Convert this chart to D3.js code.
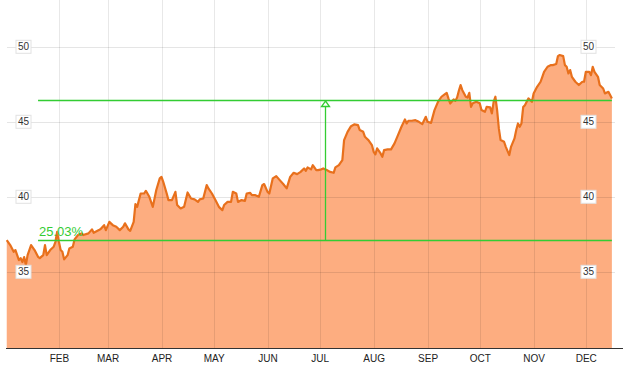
<!DOCTYPE html>
<html>
<head>
<meta charset="utf-8">
<script src="https://cdn.jsdelivr.net/npm/d3@7"></script>
<style>
  body { margin: 0; background: #fff; }
  svg { display: block; font-family: "Liberation Sans", Arial, sans-serif; }
</style>
</head>
<body>
<svg id="chart" width="630" height="368"></svg>
<script>
"use strict";

// price series
var dates = [
  "2013-01-02","2013-01-04","2013-01-06","2013-01-07","2013-01-09","2013-01-10","2013-01-11","2013-01-12",
  "2013-01-13","2013-01-14","2013-01-16","2013-01-18","2013-01-20","2013-01-21","2013-01-23","2013-01-24",
  "2013-01-25","2013-01-27","2013-01-29","2013-01-30","2013-01-31","2013-02-01","2013-02-02","2013-02-03",
  "2013-02-04","2013-02-06","2013-02-07","2013-02-09","2013-02-10","2013-02-12","2013-02-14","2013-02-15",
  "2013-02-18","2013-02-20","2013-02-21","2013-02-24","2013-02-25","2013-02-27","2013-02-28","2013-03-02",
  "2013-03-04","2013-03-06","2013-03-08","2013-03-10","2013-03-11","2013-03-13","2013-03-14","2013-03-16",
  "2013-03-17","2013-03-18","2013-03-20","2013-03-22","2013-03-23","2013-03-25","2013-03-27","2013-03-29",
  "2013-03-31","2013-04-01","2013-04-02","2013-04-04","2013-04-05","2013-04-07","2013-04-09","2013-04-10",
  "2013-04-12","2013-04-14","2013-04-16","2013-04-18","2013-04-20","2013-04-22","2013-04-23","2013-04-25",
  "2013-04-27","2013-04-28","2013-04-30","2013-05-02","2013-05-04","2013-05-06","2013-05-07","2013-05-09",
  "2013-05-11","2013-05-12","2013-05-14","2013-05-15","2013-05-17","2013-05-19","2013-05-20","2013-05-22",
  "2013-05-23","2013-05-25","2013-05-27","2013-05-29","2013-05-30","2013-06-01","2013-06-02","2013-06-04",
  "2013-06-06","2013-06-08","2013-06-10","2013-06-12","2013-06-14","2013-06-16","2013-06-18","2013-06-20",
  "2013-06-22","2013-06-23","2013-06-24","2013-06-26","2013-06-27","2013-06-29","2013-06-30","2013-07-02",
  "2013-07-03","2013-07-05","2013-07-07","2013-07-09","2013-07-10","2013-07-12","2013-07-14","2013-07-15",
  "2013-07-17","2013-07-19","2013-07-21","2013-07-23","2013-07-24","2013-07-26","2013-07-27","2013-07-28",
  "2013-07-29","2013-07-31","2013-08-01","2013-08-02","2013-08-03","2013-08-05","2013-08-06","2013-08-07",
  "2013-08-09","2013-08-11","2013-08-13","2013-08-15","2013-08-17","2013-08-19","2013-08-20","2013-08-21",
  "2013-08-23","2013-08-25","2013-08-27","2013-08-29","2013-08-31","2013-09-01","2013-09-03","2013-09-05",
  "2013-09-07","2013-09-09","2013-09-11","2013-09-12","2013-09-13","2013-09-14","2013-09-16","2013-09-17",
  "2013-09-18","2013-09-19","2013-09-20","2013-09-21","2013-09-23","2013-09-24","2013-09-25","2013-09-26",
  "2013-09-27","2013-09-29","2013-10-01","2013-10-02","2013-10-04","2013-10-05","2013-10-07","2013-10-08",
  "2013-10-09","2013-10-10","2013-10-11","2013-10-12","2013-10-13","2013-10-15","2013-10-16","2013-10-18",
  "2013-10-19","2013-10-21","2013-10-22","2013-10-23","2013-10-24","2013-10-25","2013-10-26","2013-10-27",
  "2013-10-28","2013-10-29","2013-10-30","2013-10-31","2013-11-01","2013-11-03","2013-11-05","2013-11-06",
  "2013-11-07","2013-11-09","2013-11-11","2013-11-12","2013-11-14","2013-11-15","2013-11-16","2013-11-18",
  "2013-11-19","2013-11-20","2013-11-21","2013-11-22","2013-11-23","2013-11-25","2013-11-27","2013-11-29",
  "2013-11-30","2013-12-01","2013-12-03","2013-12-04","2013-12-05","2013-12-06","2013-12-08","2013-12-09",
  "2013-12-11","2013-12-12","2013-12-14","2013-12-15","2013-12-16"
];

var prices = [
  37.11,36.78,36.33,36.45,35.78,35.91,35.65,35.98,
  35.45,36.11,36.78,36.45,36.00,35.91,36.11,36.78,
  36.11,36.45,36.67,37.00,37.67,37.00,36.45,36.33,
  35.83,36.11,36.56,36.67,37.16,37.45,37.56,37.45,
  37.56,37.83,37.60,37.78,37.85,38.11,37.78,38.33,
  38.11,38.00,37.78,38.00,38.23,37.83,37.73,38.33,
  39.51,39.33,40.22,40.22,40.40,40.00,39.33,40.45,
  41.23,41.33,41.00,40.22,39.78,39.78,40.33,39.45,
  39.22,39.33,40.29,39.89,39.83,39.66,39.83,39.89,
  40.78,40.56,40.22,39.78,39.33,39.11,39.45,39.66,
  39.66,40.33,40.22,39.66,39.78,39.73,40.22,40.26,
  40.11,40.11,40.00,40.78,40.85,40.33,40.22,41.23,
  41.38,41.11,40.85,40.56,41.33,41.60,41.51,41.66,
  41.89,41.73,41.96,41.83,42.11,41.78,41.78,41.83,
  41.89,41.78,41.66,41.60,41.96,42.11,42.45,43.78,
  44.33,44.71,44.83,44.78,44.45,44.33,44.00,43.89,
  43.78,43.45,43.00,42.83,43.23,42.89,42.67,43.11,
  43.16,43.16,43.56,44.11,44.67,45.16,44.89,45.07,
  45.07,45.11,45.00,44.85,45.33,45.00,44.93,45.78,
  46.33,46.67,46.85,46.93,46.56,46.22,46.49,46.40,
  46.62,47.07,47.45,47.11,46.67,46.62,46.93,46.00,
  46.23,46.33,46.23,45.78,45.67,46.00,45.96,45.56,
  46.33,46.67,45.78,44.56,43.78,43.67,43.33,42.78,
  43.33,43.89,44.45,44.89,44.67,44.89,45.98,46.11,
  46.33,46.56,46.45,46.33,46.89,47.33,47.67,48.00,
  48.33,48.67,48.78,48.78,48.85,49.38,49.45,49.38,
  48.78,48.67,48.22,48.45,48.00,47.67,47.45,47.67,
  47.67,48.33,48.33,48.11,48.67,48.33,48.00,47.45,
  47.22,46.89,47.00,46.78,46.56
];

var yTicks = [35, 40, 45, 50];
var monthStarts = ["2013-02-01","2013-03-01","2013-04-01","2013-05-01","2013-06-01","2013-07-01",
                   "2013-08-01","2013-09-01","2013-10-01","2013-11-01","2013-12-01"];

// performance marker
var changeStart = "2013-01-20";
var changeMid = "2013-07-04";
var changeLow = 37.1;
var changeHigh = 46.39;
var changeLabel = "25.03%";

var parseDate = d3.timeParse("%Y-%m-%d");
var points = dates.map(function(d, i) {
  return { date: parseDate(d), value: prices[i] };
});

var svg = d3.select("#chart");
var height = 348;

var x = d3.scaleTime()
  .domain([parseDate("2013-01-01"), parseDate("2014-01-01")])
  .range([5, 639.7]);

var y = d3.scaleLinear()
  .domain([29.92, 53.12])
  .range([height, 0]);

// area + line
var area = d3.area()
  .x(function(d) { return x(d.date); })
  .y0(height)
  .y1(function(d) { return y(d.value); });

var line = d3.line()
  .x(function(d) { return x(d.date); })
  .y(function(d) { return y(d.value); });

svg.append("path")
  .datum(points)
  .attr("d", area)
  .attr("fill", "#fdad80");

// grid
svg.append("g")
  .attr("class", "grid-h")
  .selectAll("line")
  .data(yTicks)
  .enter()
  .append("line")
  .attr("x1", 7)
  .attr("x2", 615)
  .attr("y1", function(v) { return Math.round(y(v)) + 0.5; })
  .attr("y2", function(v) { return Math.round(y(v)) + 0.5; })
  .attr("stroke", "#000")
  .attr("stroke-opacity", 0.1);

svg.append("g")
  .attr("class", "grid-v")
  .selectAll("line")
  .data(monthStarts.map(parseDate))
  .enter()
  .append("line")
  .attr("x1", function(d) { return Math.round(x(d)) + 0.5; })
  .attr("x2", function(d) { return Math.round(x(d)) + 0.5; })
  .attr("y1", 0)
  .attr("y2", height)
  .attr("stroke", "#000")
  .attr("stroke-opacity", 0.09);

svg.append("path")
  .datum(points)
  .attr("d", line)
  .attr("fill", "none")
  .attr("stroke", "#e8701c")
  .attr("stroke-width", 2.2)
  .attr("stroke-linejoin", "round");

// green change marker
var green = "#33cc33";
var xStart = x(parseDate(changeStart));
var xEnd = x(points[points.length - 1].date);
var xMid = Math.round(x(parseDate(changeMid))) + 0.5;
var yLow = Math.round(y(changeLow)) + 0.5;
var yHigh = Math.floor(y(changeHigh)) + 0.5;

var marker = svg.append("g")
  .attr("class", "change")
  .attr("stroke", green)
  .attr("stroke-width", 1.3);
marker.append("line")
  .attr("x1", xStart).attr("x2", xEnd)
  .attr("y1", yLow).attr("y2", yLow);
marker.append("line")
  .attr("x1", xStart).attr("x2", xEnd)
  .attr("y1", yHigh).attr("y2", yHigh);
marker.append("line")
  .attr("x1", xMid).attr("x2", xMid)
  .attr("y1", yLow).attr("y2", yHigh);
marker.append("path")
  .attr("d", "M" + xMid + "," + (yHigh + 0.5) + " l4,5.5 l-8,0 z")
  .attr("fill", "#fff");

svg.append("text")
  .attr("x", xStart + 1)
  .attr("y", yLow - 5)
  .attr("fill", green)
  .style("font-size", "13px")
  .text(changeLabel);

// y labels on both sides
function yLabels(cx) {
  var g = svg.append("g")
    .selectAll("g")
    .data(yTicks)
    .enter()
    .append("g")
    .attr("transform", function(v) { return "translate(" + cx + "," + y(v) + ")"; });
  g.append("rect")
    .attr("x", -7.5)
    .attr("y", -6.5)
    .attr("width", 15)
    .attr("height", 13)
    .attr("fill", "#fff")
    .attr("stroke", "#e2e2e2");
  g.append("text")
    .attr("text-anchor", "middle")
    .attr("dy", "0.35em")
    .attr("fill", "#333")
    .style("font-size", "10px")
    .text(function(v) { return v; });
}
yLabels(23.5);
yLabels(588.5);

// x axis
var xAxis = d3.axisBottom(x)
  .tickValues(monthStarts.map(parseDate))
  .tickSize(0)
  .tickPadding(7)
  .tickFormat(function(d) { return d3.timeFormat("%b")(d).toUpperCase(); });

var axisG = svg.append("g")
  .attr("transform", "translate(0," + height + ")")
  .call(xAxis);
axisG.select(".domain").remove();
axisG.selectAll("text")
  .attr("fill", "#222")
  .style("font-size", "10px")
  .style("font-family", "'Liberation Sans', Arial, sans-serif");

svg.append("line")
  .attr("x1", 6)
  .attr("x2", 623)
  .attr("y1", height + 0.5)
  .attr("y2", height + 0.5)
  .attr("stroke", "#333");
</script>
</body>
</html>
